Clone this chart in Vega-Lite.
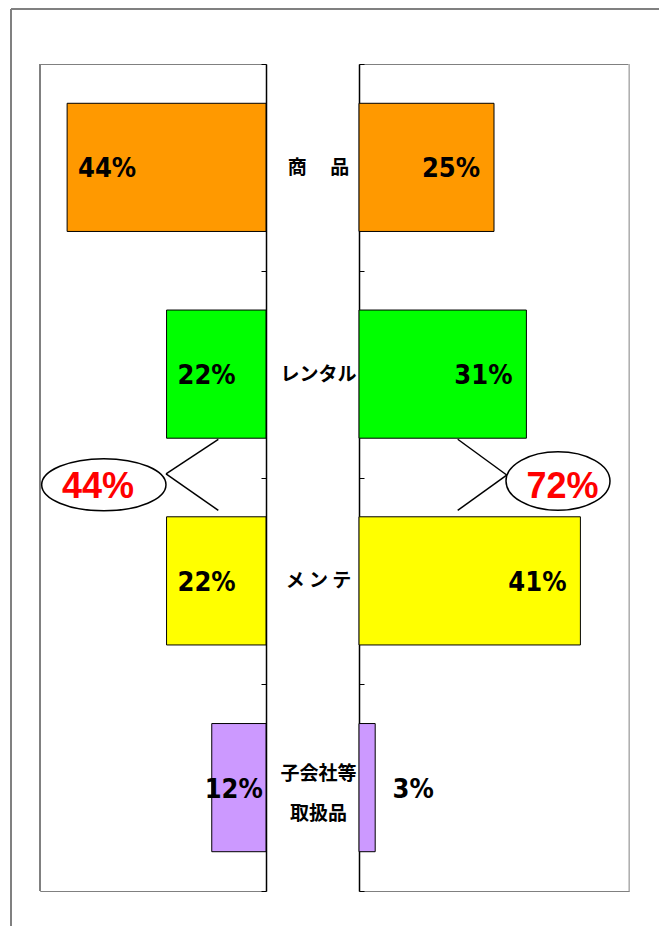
{
  "$schema": "https://vega.github.io/schema/vega-lite/v6.json",
  "background": "#ffffff",
  "padding": {"left": 9, "top": 7, "right": 0, "bottom": 0},
  "autosize": {"type": "pad"},
  "bounds": "flush",
  "spacing": 93,
  "config": {
    "view": {"stroke": "#808080", "strokeWidth": 1},
    "font": "Noto Sans CJK JP"
  },
  "datasets": {
    "share": [
      {"side": "left", "cat": "商品", "pct": 0.44},
      {"side": "left", "cat": "レンタル", "pct": 0.22},
      {"side": "left", "cat": "メンテ", "pct": 0.22},
      {"side": "left", "cat": "子会社等取扱品", "pct": 0.12},
      {"side": "right", "cat": "商品", "pct": 0.25},
      {"side": "right", "cat": "レンタル", "pct": 0.31},
      {"side": "right", "cat": "メンテ", "pct": 0.41},
      {"side": "right", "cat": "子会社等取扱品", "pct": 0.03}
    ],
    "callout": [
      {"side": "left", "total": 0.44},
      {"side": "right", "total": 0.72}
    ]
  },
  "hconcat": [
    {
      "width": 226,
      "height": 827,
      "resolve": {"scale": {"y": "independent"}},
      "layer": [
        {
          "data": {"name": "share"},
          "transform": [{"filter": "datum.side == 'left'"}],
          "encoding": {
            "y": {
              "field": "cat", "type": "nominal",
              "sort": ["商品", "レンタル", "メンテ", "子会社等取扱品"],
              "scale": {"paddingInner": 0, "paddingOuter": 0},
              "axis": {"orient": "right", "title": null, "labels": false, "grid": false,
                       "domain": true, "domainColor": "#000000", "domainWidth": 1.5,
                       "ticks": true, "tickColor": "#000000", "tickWidth": 1, "tickSize": -5, "tickBand": "extent"}
            },
            "x": {
              "field": "pct", "type": "quantitative",
              "scale": {"domain": [0, 0.5], "reverse": true, "nice": false, "zero": false},
              "axis": {"orient": "bottom", "title": null, "labels": false, "ticks": false, "grid": false,
                       "domain": true, "domainColor": "#000000", "domainWidth": 1.5}
            }
          },
          "layer": [
            {
              "mark": {"type": "bar", "height": {"band": 0.62}, "stroke": "#000000", "strokeWidth": 1},
              "encoding": {
                "color": {"field": "cat", "type": "nominal",
                          "scale": {"domain": ["商品", "レンタル", "メンテ", "子会社等取扱品"],
                                    "range": ["#FF9900", "#00FF00", "#FFFF00", "#CC99FF"]},
                          "legend": null}
              }
            },
            {
              "transform": [{"filter": "datum.pct >= 0.2"}],
              "mark": {"type": "text", "align": "center", "baseline": "middle", "dx": 40, "dy": 2,
                       "font": "DejaVu Sans Condensed, sans-serif",
                       "fontSize": 27, "fontWeight": "bold", "color": "#000000"},
              "encoding": {"text": {"field": "pct", "type": "quantitative", "format": ".0%"}}
            },
            {
              "transform": [{"filter": "datum.pct < 0.2"}],
              "mark": {"type": "text", "align": "center", "baseline": "middle", "dx": 22, "dy": 2,
                       "font": "DejaVu Sans Condensed, sans-serif",
                       "fontSize": 27, "fontWeight": "bold", "color": "#000000"},
              "encoding": {"text": {"field": "pct", "type": "quantitative", "format": ".0%"}}
            }
          ]
        },
        {
          "data": {"name": "callout"},
          "transform": [{"filter": "datum.side == 'left'"}],
          "layer": [
            {
              "mark": {"type": "rule", "color": "#808080", "strokeWidth": 2},
              "encoding": {
                "x": {"datum": 0.56416, "scale": {"domain": [0, 0.5], "reverse": true, "nice": false, "zero": false}, "axis": null},
                "y": {"datum": -0.266, "scale": {"domain": [0, 4], "reverse": true, "nice": false, "zero": false}, "axis": null},
                "y2": {"datum": 4.169}
              }
            },
            {
              "mark": {"type": "rule", "color": "#808080", "strokeWidth": 2},
              "encoding": {
                "x": {"datum": 0.56416, "scale": {"domain": [0, 0.5], "reverse": true, "nice": false, "zero": false}, "axis": null},
                "x2": {"datum": -0.8695},
                "y": {"datum": -0.266, "scale": {"domain": [0, 4], "reverse": true, "nice": false, "zero": false}, "axis": null}
              }
            },
            {
              "mark": {"type": "rule", "color": "#808080", "strokeWidth": 2},
              "encoding": {
                "x": {"datum": 0.5, "scale": {"domain": [0, 0.5], "reverse": true, "nice": false, "zero": false}, "axis": null},
                "y": {"datum": 0, "scale": {"domain": [0, 4], "reverse": true, "nice": false, "zero": false}, "axis": null},
                "y2": {"datum": 4}
              }
            },
            {
              "mark": {"type": "rule", "color": "#000000", "strokeWidth": 1.5},
              "encoding": {
                "x": {"datum": 0.2212, "scale": {"domain": [0, 0.5], "reverse": true, "nice": false, "zero": false}, "axis": null},
                "y": {"datum": 1.983, "scale": {"domain": [0, 4], "reverse": true, "nice": false, "zero": false}, "axis": null},
                "x2": {"datum": 0.1055},
                "y2": {"datum": 1.815}
              }
            },
            {
              "mark": {"type": "rule", "color": "#000000", "strokeWidth": 1.5},
              "encoding": {
                "x": {"datum": 0.2212, "scale": {"domain": [0, 0.5], "reverse": true, "nice": false, "zero": false}, "axis": null},
                "y": {"datum": 1.983, "scale": {"domain": [0, 4], "reverse": true, "nice": false, "zero": false}, "axis": null},
                "x2": {"datum": 0.1055},
                "y2": {"datum": 2.159}
              }
            },
            {
              "mark": {"type": "point", "shape": "M1,0C1,0.232,0.552,0.42,0,0.42C-0.552,0.42,-1,0.232,-1,0C-1,-0.232,-0.552,-0.42,0,-0.42C0.552,-0.42,1,-0.232,1,0Z",
                       "size": 15450, "filled": true, "fill": "#ffffff", "stroke": "#000000", "strokeWidth": 1.5, "opacity": 1},
              "encoding": {
                "x": {"datum": 0.3588, "scale": {"domain": [0, 0.5], "reverse": true, "nice": false, "zero": false}, "axis": null},
                "y": {"datum": 2.035, "scale": {"domain": [0, 4], "reverse": true, "nice": false, "zero": false}, "axis": null}
              }
            },
            {
              "mark": {"type": "text", "align": "center", "baseline": "middle", "font": "Liberation Sans, Arial, sans-serif",
                       "fontSize": 36, "fontWeight": "bold", "color": "#FF0000"},
              "encoding": {
                "x": {"datum": 0.3717, "scale": {"domain": [0, 0.5], "reverse": true, "nice": false, "zero": false}, "axis": null},
                "y": {"datum": 2.048, "scale": {"domain": [0, 4], "reverse": true, "nice": false, "zero": false}, "axis": null},
                "text": {"field": "total", "type": "quantitative", "format": ".0%"}
              }
            }
          ]
        }
      ]
    },
    {
      "width": 270,
      "height": 827,
      "resolve": {"scale": {"y": "independent"}},
      "layer": [
        {
          "data": {"name": "share"},
          "transform": [{"filter": "datum.side == 'right'"}],
          "encoding": {
            "y": {
              "field": "cat", "type": "nominal",
              "sort": ["商品", "レンタル", "メンテ", "子会社等取扱品"],
              "scale": {"paddingInner": 0, "paddingOuter": 0},
              "axis": {"orient": "left", "title": null, "grid": false,
                       "domain": true, "domainColor": "#000000", "domainWidth": 1.5,
                       "ticks": true, "tickColor": "#000000", "tickWidth": 1, "tickSize": -5, "tickBand": "extent",
                       "labels": true, "labelAlign": "center", "labelBaseline": "middle", "labelPadding": 46,
                       "labelFont": "Noto Sans CJK JP", "labelFontWeight": "bold", "labelFontSize": 19,
                       "labelColor": "#000000", "labelLineHeight": 40, "labelLimit": 0, "labelOverlap": false,
                       "labelOffset": {"condition": {"test": "datum.value == '子会社等取扱品'", "value": -14}, "value": 0},
                       "labelExpr": "datum.value == '商品' ? '商　 品' : datum.value == 'メンテ' ? 'メ ン テ' : datum.value == '子会社等取扱品' ? ['子会社等', '取扱品'] : datum.value"}
            },
            "x": {
              "field": "pct", "type": "quantitative",
              "scale": {"domain": [0, 0.5], "nice": false, "zero": false},
              "axis": null
            }
          },
          "layer": [
            {
              "mark": {"type": "bar", "height": {"band": 0.62}, "stroke": "#000000", "strokeWidth": 1},
              "encoding": {
                "color": {"field": "cat", "type": "nominal",
                          "scale": {"domain": ["商品", "レンタル", "メンテ", "子会社等取扱品"],
                                    "range": ["#FF9900", "#00FF00", "#FFFF00", "#CC99FF"]},
                          "legend": null}
              }
            },
            {
              "transform": [{"filter": "datum.pct >= 0.2"}],
              "mark": {"type": "text", "align": "center", "baseline": "middle", "dx": -43, "dy": 2,
                       "font": "DejaVu Sans Condensed, sans-serif",
                       "fontSize": 27, "fontWeight": "bold", "color": "#000000"},
              "encoding": {"text": {"field": "pct", "type": "quantitative", "format": ".0%"}}
            },
            {
              "transform": [{"filter": "datum.pct < 0.2"}],
              "mark": {"type": "text", "align": "center", "baseline": "middle", "dx": 38, "dy": 2,
                       "font": "DejaVu Sans Condensed, sans-serif",
                       "fontSize": 27, "fontWeight": "bold", "color": "#000000"},
              "encoding": {"text": {"field": "pct", "type": "quantitative", "format": ".0%"}}
            }
          ]
        },
        {
          "data": {"name": "callout"},
          "transform": [{"filter": "datum.side == 'right'"}],
          "layer": [
            {
              "mark": {"type": "rule", "color": "#c0c0c0", "strokeWidth": 1.5},
              "encoding": {
                "x": {"datum": 0.5, "scale": {"domain": [0, 0.5], "nice": false, "zero": false}, "axis": null},
                "y": {"datum": 0, "scale": {"domain": [0, 4], "reverse": true, "nice": false, "zero": false}, "axis": null},
                "y2": {"datum": 4}
              }
            },
            {
              "mark": {"type": "rule", "color": "#000000", "strokeWidth": 1.5},
              "encoding": {
                "x": {"datum": 0.2735, "scale": {"domain": [0, 0.5], "nice": false, "zero": false}, "axis": null},
                "y": {"datum": 1.988, "scale": {"domain": [0, 4], "reverse": true, "nice": false, "zero": false}, "axis": null},
                "x2": {"datum": 0.1828},
                "y2": {"datum": 1.815}
              }
            },
            {
              "mark": {"type": "rule", "color": "#000000", "strokeWidth": 1.5},
              "encoding": {
                "x": {"datum": 0.2735, "scale": {"domain": [0, 0.5], "nice": false, "zero": false}, "axis": null},
                "y": {"datum": 1.988, "scale": {"domain": [0, 4], "reverse": true, "nice": false, "zero": false}, "axis": null},
                "x2": {"datum": 0.1828},
                "y2": {"datum": 2.159}
              }
            },
            {
              "mark": {"type": "point", "shape": "M1,0C1,0.311,0.552,0.563,0,0.563C-0.552,0.563,-1,0.311,-1,0C-1,-0.311,-0.552,-0.563,0,-0.563C0.552,-0.563,1,-0.311,1,0Z",
                       "size": 10816, "filled": true, "fill": "#ffffff", "stroke": "#000000", "strokeWidth": 1.5, "opacity": 1},
              "encoding": {
                "x": {"datum": 0.3685, "scale": {"domain": [0, 0.5], "nice": false, "zero": false}, "axis": null},
                "y": {"datum": 2.017, "scale": {"domain": [0, 4], "reverse": true, "nice": false, "zero": false}, "axis": null}
              }
            },
            {
              "mark": {"type": "text", "align": "center", "baseline": "middle", "font": "Liberation Sans, Arial, sans-serif",
                       "fontSize": 36, "fontWeight": "bold", "color": "#FF0000"},
              "encoding": {
                "x": {"datum": 0.3769, "scale": {"domain": [0, 0.5], "nice": false, "zero": false}, "axis": null},
                "y": {"datum": 2.048, "scale": {"domain": [0, 4], "reverse": true, "nice": false, "zero": false}, "axis": null},
                "text": {"field": "total", "type": "quantitative", "format": ".0%"}
              }
            }
          ]
        }
      ]
    }
  ]
}
